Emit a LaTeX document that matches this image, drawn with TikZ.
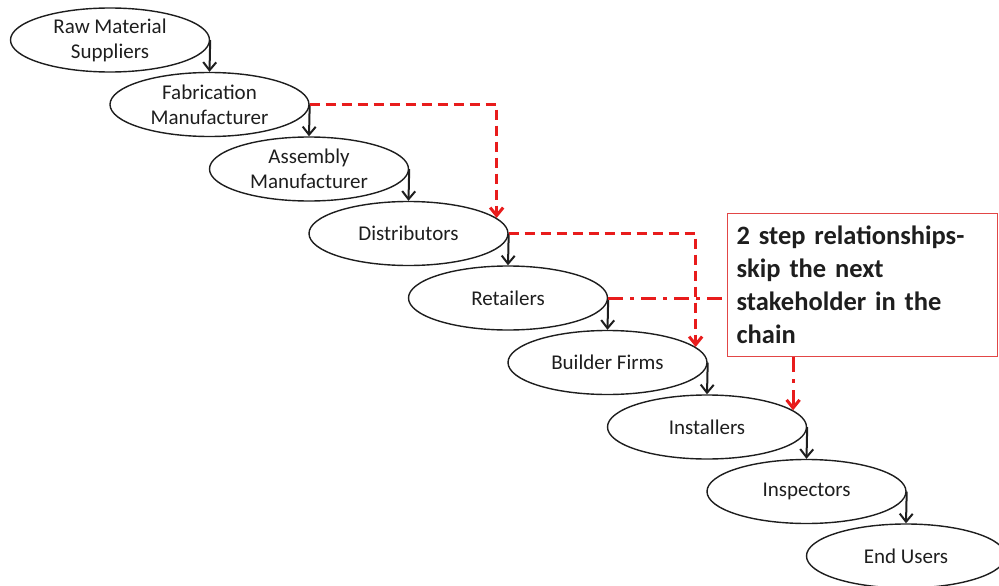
\documentclass[tikz,border=0pt]{standalone}
\usepackage{fontspec}
\setmainfont{Carlito}
\usetikzlibrary{shapes.geometric,arrows.meta,positioning}
\definecolor{chainred}{RGB}{232,28,28}
\definecolor{notered}{RGB}{226,70,70}
\definecolor{inkgray}{RGB}{30,30,30}
\tikzset{
  stage/.style={draw=inkgray, line width=1.4pt, ellipse, minimum width=199pt, minimum height=64pt,
    inner sep=0pt, align=center, text=inkgray, font=\fontsize{21}{25}\selectfont},
  flow/.style={inkgray, line width=2pt, -{Straight Barb[length=8pt,width=13pt]}},
  skipdash/.style={chainred, line width=3pt, dash pattern=on 10pt off 6pt,
    -{Straight Barb[length=8pt,width=13pt]}},
  skipdot/.style={chainred, line width=3pt, dash pattern=on 15pt off 7pt on 4pt off 7pt}
}
\begin{document}
\begin{tikzpicture}[x=1pt,y=-1pt]
            \useasboundingbox (0,0) rectangle (999,586);
            % supply chain stages
            \node[stage] (raw) at (110,40) {Raw Material\\Suppliers};
            \node[stage] (fab) at (209.5,104.5) {Fabrication\\Manufacturer};
            \node[stage] (asm) at (309,169) {Assembly\\Manufacturer};
            \node[stage] (dist) at (408.5,233.5) {Distributors};
            \node[stage] (ret) at (508,298) {Retailers};
            \node[stage] (build) at (607.5,362.5) {Builder Firms};
            \node[stage] (inst) at (707,427) {Installers};
            \node[stage] (insp) at (806.5,491.5) {Inspectors};
            \node[stage] (end) at (906,556) {End Users};

            % note
            \node[draw=notered, line width=1.3pt, anchor=north west, text width=252pt,
              minimum height=143pt, inner xsep=9pt, align=left, text=inkgray,
              font=\bfseries\fontsize{26.5}{33}\selectfont] (note) at (727,213)
              {2 step relationships-\\skip the next\\stakeholder in the\\chain};

            % next stakeholder
            \draw[flow] (raw.east) -- (fab.north);
            \draw[flow] (fab.east) -- (asm.north);
            \draw[flow] (asm.east) -- (dist.north);
            \draw[flow] (dist.east) -- (ret.north);
            \draw[flow] (ret.east) -- (build.north);
            \draw[flow] (build.east) -- (inst.north);
            \draw[flow] (inst.east) -- (insp.north);
            \draw[flow] (insp.east) -- (end.north);

            % 2 step relationships
            \draw[skipdash] (fab.east) -| (dist.10);
            \draw[skipdash] (dist.east) -| (build.10);
            \draw[skipdot] (ret.east) -- (ret.east -| note.west);
            \draw[skipdot, -{Straight Barb[length=8pt,width=13pt]}] (inst.11 |- note.south) -- (inst.11);
\end{tikzpicture}
\end{document}
